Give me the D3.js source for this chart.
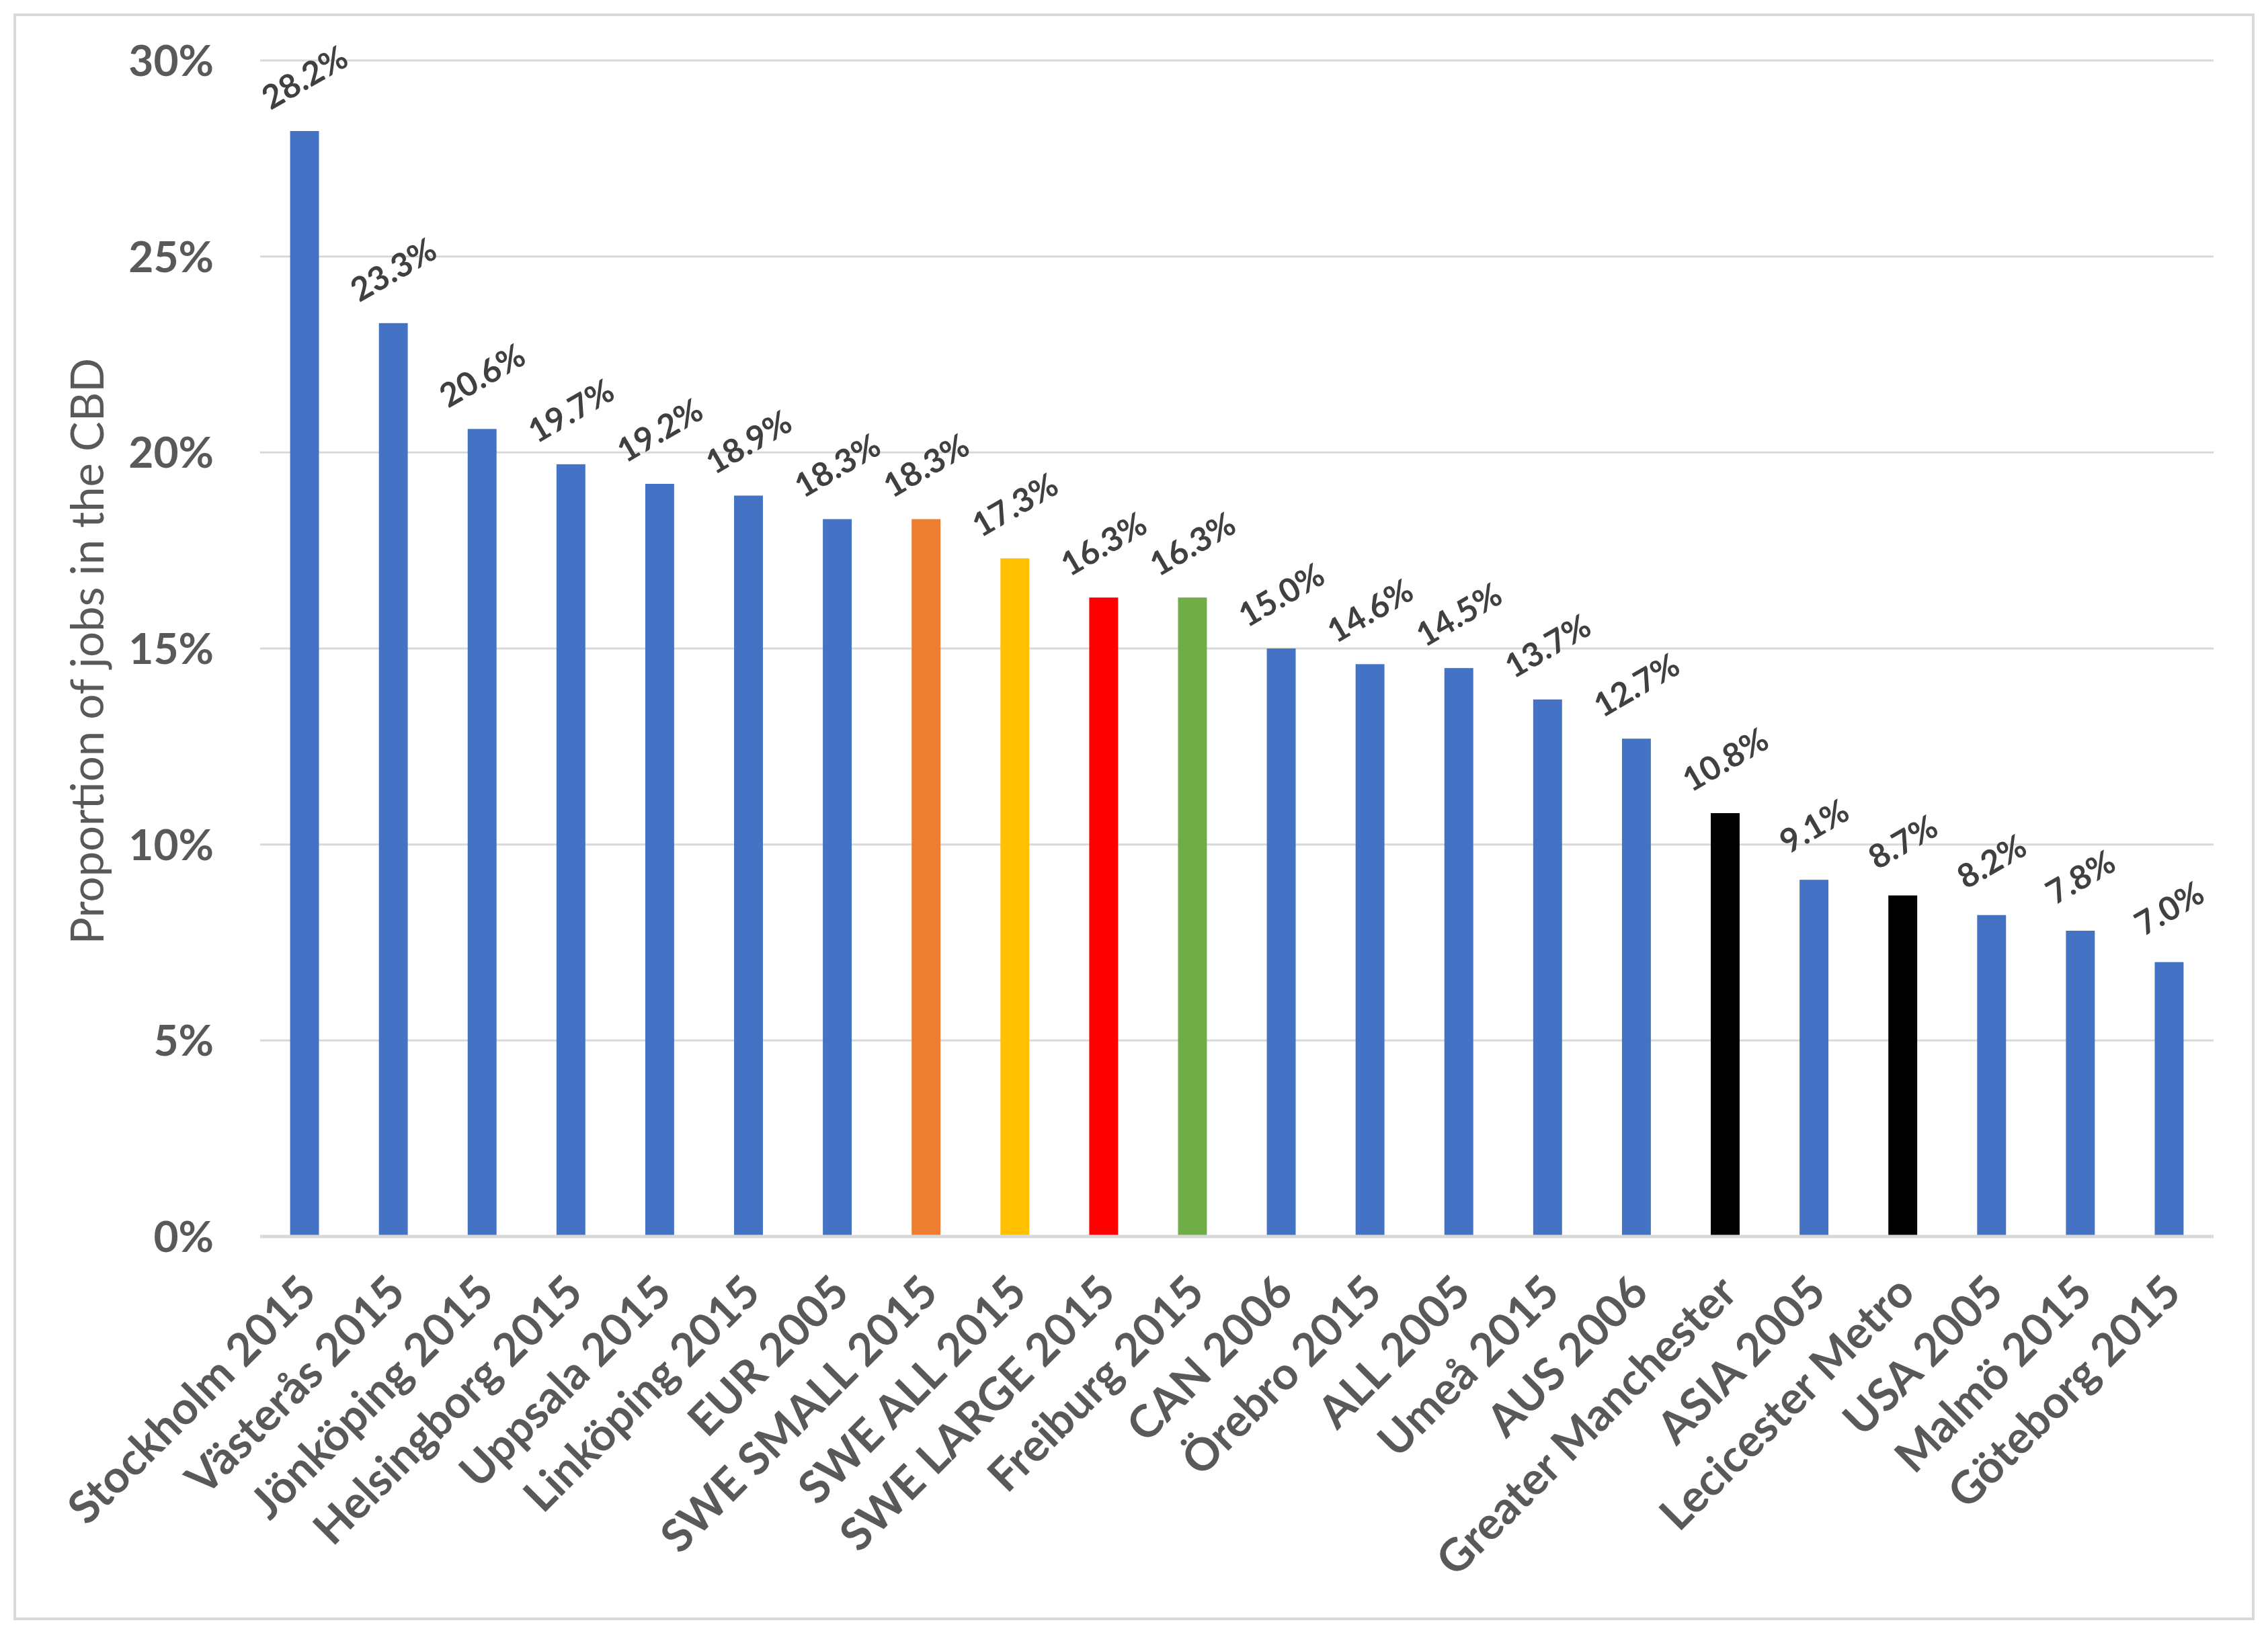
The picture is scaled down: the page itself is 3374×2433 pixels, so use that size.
<!DOCTYPE html>
<html>
<head>
<meta charset="utf-8">
<script src="https://cdn.jsdelivr.net/npm/d3@7"></script>
<style>
html,body{margin:0;padding:0;background:#fff;}
svg{display:block;}
</style>
</head>
<body>
<script>
const categories = ["Stockholm 2015","Västerås 2015","Jönköping 2015","Helsingborg 2015","Uppsala 2015","Linköping 2015","EUR 2005","SWE SMALL 2015","SWE ALL 2015","SWE LARGE 2015","Freiburg 2015","CAN 2006","Örebro 2015","ALL 2005","Umeå 2015","AUS 2006","Greater Manchester","ASIA 2005","Lecicester Metro","USA 2005","Malmö 2015","Göteborg 2015"];
const values = [28.2,23.3,20.6,19.7,19.2,18.9,18.3,18.3,17.3,16.3,16.3,15.0,14.6,14.5,13.7,12.7,10.8,9.1,8.7,8.2,7.8,7.0];
const barColors = ["#4472C4","#4472C4","#4472C4","#4472C4","#4472C4","#4472C4","#4472C4","#ED7D31","#FFC000","#FF0000","#70AD47","#4472C4","#4472C4","#4472C4","#4472C4","#4472C4","#000000","#4472C4","#000000","#4472C4","#4472C4","#4472C4"];
const yTicks = [0,5,10,15,20,25,30];
const yTitle = "Proportion of jobs in the CBD";

const W = 3374, H = 2433;
const plot = {left: 387, right: 3293, top: 90, bottom: 1840};
const FONT = "Lato, 'Open Sans', sans-serif";
const TXT = "#595959";

const svg = d3.select("body").append("svg").attr("width", W).attr("height", H);
svg.append("rect").attr("width", W).attr("height", H).attr("fill", "#fff");
svg.append("rect").attr("x", 22).attr("y", 22).attr("width", W - 44).attr("height", H - 46)
  .attr("fill", "none").attr("stroke", "#D9D9D9").attr("stroke-width", 4);

const x = d3.scaleBand().domain(categories).range([plot.left, plot.right]).paddingInner(0.675).paddingOuter(0.3375);
const y = d3.scaleLinear().domain([0, 30]).range([plot.bottom, plot.top]);

// gridlines
svg.append("g").selectAll("line").data(yTicks.filter(d => d > 0)).join("line")
  .attr("x1", plot.left).attr("x2", plot.right)
  .attr("y1", d => y(d)).attr("y2", d => y(d))
  .attr("stroke", "#D9D9D9").attr("stroke-width", 3);

// y tick labels
svg.append("g").selectAll("text").data(yTicks).join("text")
  .attr("x", 318).attr("y", d => y(d)).attr("dy", "0.36em")
  .attr("text-anchor", "end").attr("font-family", FONT).attr("font-weight", 700)
  .attr("font-size", 64).attr("fill", TXT).text(d => d + "%");

// y title
svg.append("text").attr("transform", `translate(130,${(plot.top + plot.bottom) / 2 + 4}) rotate(-90)`)
  .attr("text-anchor", "middle").attr("dy", "0.36em").attr("font-family", FONT)
  .attr("font-weight", 400).attr("font-size", 67).attr("fill", TXT).text(yTitle);

// bars
svg.append("g").selectAll("rect").data(values).join("rect")
  .attr("x", (d, i) => x(categories[i])).attr("width", x.bandwidth())
  .attr("y", d => y(d)).attr("height", d => y(0) - y(d))
  .attr("fill", (d, i) => barColors[i]);

// baseline
svg.append("line").attr("x1", plot.left).attr("x2", plot.right)
  .attr("y1", y(0)).attr("y2", y(0)).attr("stroke", "#D9D9D9").attr("stroke-width", 5);

// data labels
svg.append("g").selectAll("text").data(values).join("text")
  .attr("transform", (d, i) => `translate(${x(categories[i]) + x.bandwidth() / 2},${y(d) - 80}) rotate(-30)`)
  .attr("text-anchor", "middle").attr("dy", "0.36em")
  .attr("font-family", FONT).attr("font-weight", 700).attr("font-size", 49).attr("fill", "#404040")
  .text(d => d.toFixed(1) + "%");

// category labels
svg.append("g").selectAll("text").data(categories).join("text")
  .attr("transform", d => `translate(${x(d) + x.bandwidth() / 2 + 4},${plot.bottom + 70}) rotate(-45)`)
  .attr("text-anchor", "end").attr("dy", "0.36em")
  .attr("font-family", FONT).attr("font-weight", 700).attr("font-size", 67).attr("fill", TXT)
  .text(d => d);
</script>
</body>
</html>
